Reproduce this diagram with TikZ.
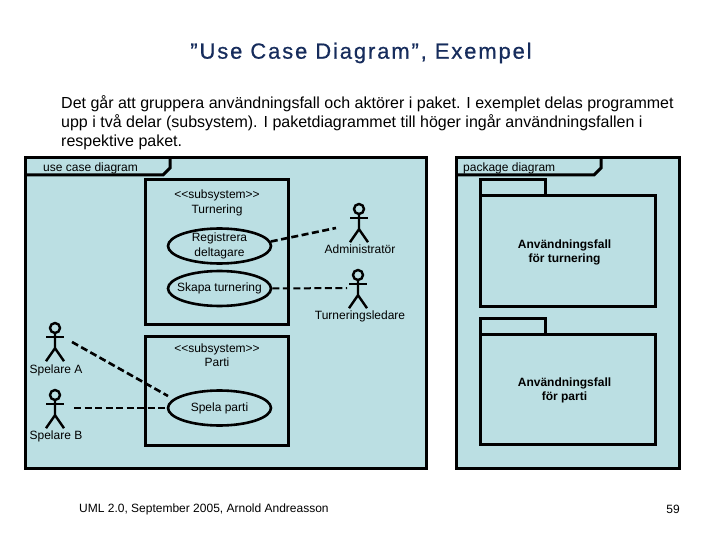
\documentclass[tikz,border=0pt]{standalone}
\usepackage{fontspec}
\setmainfont{Liberation Sans}
\usetikzlibrary{positioning,shapes}
\definecolor{panel}{RGB}{187,223,227}
\definecolor{titleblue}{RGB}{22,44,92}
\tikzset{
  lbl/.style={font=\fontsize{12}{14.5}\selectfont,align=center,inner sep=0pt},
  pkglbl/.style={lbl,font=\fontsize{12}{14}\selectfont\bfseries},
  body/.style={anchor=base west,inner sep=0pt,font=\fontsize{16}{18}\selectfont},
  framebox/.style={draw,line width=3pt,fill=panel,rectangle,inner sep=0pt},
  usecase/.style={lbl,draw,line width=2.6pt,fill=panel,ellipse,inner xsep=-7pt,inner ysep=-3pt,minimum width=103pt,minimum height=35pt},
  assoc/.style={line width=2.6pt,dash pattern=on 7pt off 3.5pt},
  limb/.style={line width=2.4pt}
}
% stick figure: name, x, y of head
\newcommand{\actor}[3]{
  \node[draw,circle,line width=2.4pt,minimum size=10pt,inner sep=0pt] (#1) at (#2,#3) {};
  \draw[limb] (#1.south) -- ++(0,14) coordinate (#1hip) -- ++(-9,13);
  \draw[limb] (#1hip) -- ++(9,13);
  \draw[limb] ([xshift=-9pt,yshift=-3pt]#1.south) -- ++(18,0);
}
\begin{document}
\begin{tikzpicture}[x=1pt,y=-1pt]
\useasboundingbox (0,0) rectangle (720,540);
\fill[white] (0,0) rectangle (720,540);

\node[text=titleblue,font=\fontsize{22}{24}\addfontfeatures{LetterSpace=8.5,FakeBold=0.6}\selectfont,inner sep=0pt] (title) at (361,53) {”Use Case Diagram”, Exempel};
\node[body] (line1) at (61,109) {Det går att gruppera användningsfall och aktörer i paket. I exemplet delas programmet};
\node[body] (line2) at (61,128) {upp i två delar (subsystem). I paketdiagrammet till höger ingår användningsfallen i};
\node[body] (line3) at (61,147) {respektive paket.};

% frames
\node[framebox,minimum width=401pt,minimum height=310pt] (ucframe) at (225.5,313) {};
\node[framebox,minimum width=223pt,minimum height=310pt] (pkgframe) at (567.5,313) {};
\draw[line width=3pt] (25,175) -- (163,175) -- (170,168) -- (170,158);
\draw[line width=3pt] (456,175) -- (594,175) -- (601,168) -- (601,158);
\node[lbl,anchor=west] (uctitle) at (43,168) {use case diagram};
\node[lbl,anchor=west] (pkgtitle) at (463,168) {package diagram};

% subsystems
\node[framebox,minimum width=143pt,minimum height=144pt] (turnering) at (216.5,252) {};
\node[framebox,minimum width=143pt,minimum height=109pt] (parti) at (216.5,390.5) {};
\node[lbl] (turneringlbl) at (217,203) {<{}<subsystem>{}>\\Turnering};
\node[lbl] (partilbl) at (217,355) {<{}<subsystem>{}>\\Parti};

% packages
\node[framebox,minimum width=65pt,minimum height=18pt] (tab1) at (512.5,189) {};
\node[framebox,minimum width=175pt,minimum height=110pt] (pkg1) at (567.5,251) {};
\node[framebox,minimum width=65pt,minimum height=18pt] (tab2) at (512.5,327) {};
\node[framebox,minimum width=175pt,minimum height=110pt] (pkg2) at (567.5,389) {};
\node[pkglbl] at (564.5,252) (pkg1lbl) {Användningsfall\\för turnering};
\node[pkglbl] at (564.5,390) (pkg2lbl) {Användningsfall\\för parti};

% use cases
\node[usecase] (registrera) at (219.5,246) {Registrera\\deltagare};
\node[usecase] (skapa) at (219.5,288.5) {Skapa turnering};
\node[usecase] (spela) at (219.5,408) {Spela parti};

% actors
\actor{admin}{359}{209}
\actor{ledare}{358}{275}
\actor{spelarea}{55}{328}
\actor{spelareb}{55}{395}
\node[lbl] (adminlbl) at (360,249) {Administratör};
\node[lbl] (ledarelbl) at (360,316) {Turneringsledare};
\node[lbl] (spelarealbl) at (56,370) {Spelare A};
\node[lbl] (spelareblbl) at (56,436) {Spelare B};

\coordinate (adminend) at (336,228);
\coordinate (ledareend) at (347,288);
\coordinate (aend) at (72,342);
\coordinate (aspela) at (168,396);
\coordinate (bend) at (74,408);
\draw[assoc] (registrera.5) -- (adminend);
\draw[assoc,line width=2pt] (skapa.east) -- (ledareend);
\draw[assoc] (aend) -- (aspela);
\draw[assoc] (bend) -- (spela.west);

\node[lbl,anchor=west] (footer) at (79,509) {UML 2.0, September 2005, Arnold Andreasson};
\node[lbl,anchor=east] (pageno) at (680,509) {59};
\end{tikzpicture}
\end{document}
